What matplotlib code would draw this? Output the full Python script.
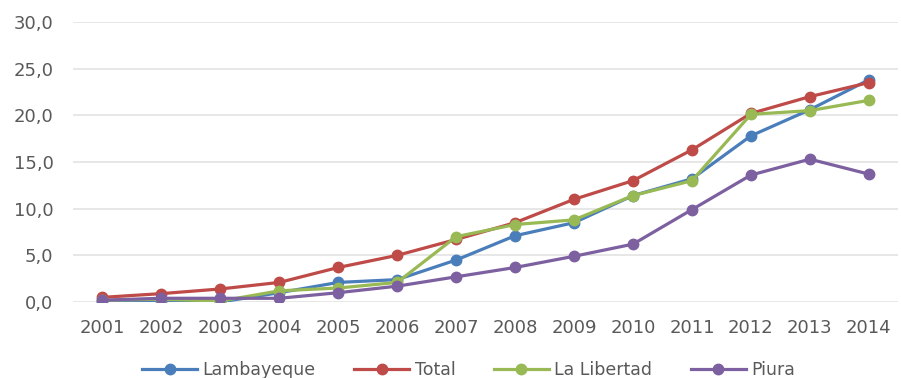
import matplotlib.pyplot as plt
from matplotlib.ticker import FuncFormatter

years = ['2001', '2002', '2003', '2004', '2005', '2006', '2007',
         '2008', '2009', '2010', '2011', '2012', '2013', '2014']

lambayeque = [0.0, 0.1, 0.0, 1.0, 2.1, 2.4, 4.5, 7.1, 8.5, 11.4, 13.2, 17.8, 20.6, 23.8]
total = [0.5, 0.9, 1.4, 2.1, 3.7, 5.0, 6.7, 8.5, 11.0, 13.0, 16.3, 20.2, 22.0, 23.5]
la_libertad = [0.2, 0.3, 0.1, 1.2, 1.5, 2.1, 7.0, 8.3, 8.8, 11.4, 13.0, 20.1, 20.5, 21.6]
piura = [0.2, 0.4, 0.4, 0.4, 1.0, 1.7, 2.7, 3.7, 4.9, 6.2, 9.9, 13.6, 15.3, 13.7]

series = [('Lambayeque', lambayeque, '#4a7ebb'),
          ('Total', total, '#be4b48'),
          ('La Libertad', la_libertad, '#98b954'),
          ('Piura', piura, '#7d60a0')]

plt.rcParams['font.family'] = ['DejaVu Sans']
fig = plt.figure(figsize=(9.01, 3.78), dpi=100)
ax = fig.add_axes([0.081, 0.201, 0.916, 0.741])

x = list(range(1, len(years) + 1))
for name, vals, col in series:
    ax.plot(x, vals, color=col, linewidth=2.3, marker='o', markersize=7.5,
            label=name)

ax.set_xlim(0.5, 14.5)
ax.set_ylim(0, 30)
ax.set_yticks([0, 5, 10, 15, 20, 25, 30])
ax.yaxis.set_major_formatter(FuncFormatter(lambda v, p: f'{v:.1f}'.replace('.', ',')))
ax.set_xticks(x)
ax.set_xticklabels(years)
ax.grid(axis='y', color='#e3e3e3', linewidth=1.2)
ax.set_axisbelow(True)
for s in ax.spines.values():
    s.set_visible(False)
ax.tick_params(length=0, labelsize=13, labelcolor='#595959')
ax.tick_params(axis='x', pad=12)
ax.tick_params(axis='y', pad=14)

leg = fig.legend(loc='lower center', bbox_to_anchor=(0.52, -0.045), ncol=4,
                 frameon=False, fontsize=12.5, handlelength=3.2,
                 columnspacing=2.2, handletextpad=0.3)
for t in leg.get_texts():
    t.set_color('#595959')

fig.savefig('out.png', dpi=100)
